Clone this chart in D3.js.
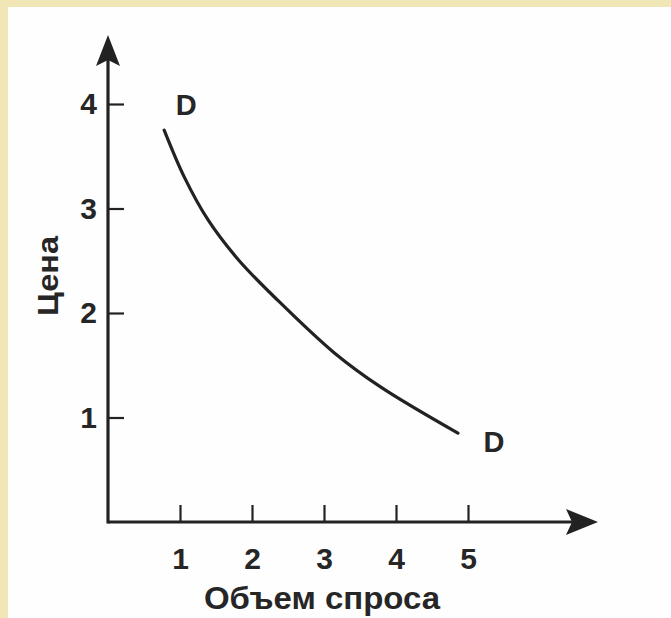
<!DOCTYPE html>
<html>
<head>
<meta charset="utf-8">
<script src="https://cdn.jsdelivr.net/npm/d3@7"></script>
<style>
  html, body { margin: 0; padding: 0; background: #fff; }
  svg text { font-family: "Liberation Sans", Arial, sans-serif; fill: #262626; }
</style>
</head>
<body>
<div id="chart"></div>
<script>
// demand curve D-D
const quantity = [0.78, 1.06, 1.39, 1.81, 2.36, 3.14, 3.79, 4.86];
const price = [3.75, 3.30, 2.89, 2.51, 2.12, 1.62, 1.29, 0.85];
const xTicks = [1, 2, 3, 4, 5];
const yTicks = [1, 2, 3, 4];
const xTitle = "Объем спроса";
const yTitle = "Цена";
const curveLabel = "D";

const width = 671, height = 618;

const svg = d3.select("#chart")
  .append("svg")
  .attr("width", width)
  .attr("height", height);

// beige frame round the picture
svg.append("rect").attr("width", width).attr("height", height).attr("fill", "#f1e6b6");
svg.append("rect").attr("x", 8).attr("y", 7).attr("width", width - 8).attr("height", height - 7).attr("fill", "#fefefe");

const x = d3.scaleLinear().domain([0, 5]).range([108, 468]);
const y = d3.scaleLinear().domain([0, 4]).range([522, 104]);

const ink = "#222";

// axes: ticks pointing inwards, domain line drawn by hand with arrows
const xAxis = svg.append("g")
  .attr("transform", `translate(0,${y(0)})`)
  .call(d3.axisBottom(x).tickValues(xTicks).tickSize(-17).tickPadding(26).tickFormat(d3.format("d")));

const yAxis = svg.append("g")
  .attr("transform", `translate(${x(0)},0)`)
  .call(d3.axisLeft(y).tickValues(yTicks).tickSize(-16).tickPadding(11).tickFormat(d3.format("d")));

[xAxis, yAxis].forEach(g => {
  g.select(".domain").remove();
  g.selectAll(".tick line").attr("stroke", ink).attr("stroke-width", 2.2);
  g.selectAll(".tick text")
    .attr("fill", ink)
    .style("font-size", "30px")
    .style("font-weight", "bold");
});

svg.append("line")
  .attr("x1", x(0)).attr("y1", y(0))
  .attr("x2", 575).attr("y2", y(0))
  .attr("stroke", ink).attr("stroke-width", 3.2);

svg.append("line")
  .attr("x1", x(0)).attr("y1", y(0) + 1.5)
  .attr("x2", x(0)).attr("y2", 55)
  .attr("stroke", ink).attr("stroke-width", 3.2);

// arrow heads
svg.append("path")
  .attr("d", `M598,${y(0)} L566,${y(0) - 13} L572,${y(0)} L566,${y(0) + 13} Z`)
  .attr("fill", ink);

svg.append("path")
  .attr("d", `M${x(0)},35 L${x(0) - 12},66 L${x(0)},60 L${x(0) + 12},66 Z`)
  .attr("fill", ink);

// demand curve
const line = d3.line()
  .x(d => x(d[0]))
  .y(d => y(d[1]))
  .curve(d3.curveCatmullRom.alpha(0.5));

svg.append("path")
  .datum(d3.zip(quantity, price))
  .attr("d", line)
  .attr("fill", "none")
  .attr("stroke", ink)
  .attr("stroke-width", 3.2)
  .attr("stroke-linecap", "round");

// D labels at both ends of the curve
const first = 0, last = quantity.length - 1;
svg.append("text")
  .attr("x", x(quantity[first]) + 22)
  .attr("y", y(price[first]) - 15)
  .attr("text-anchor", "middle")
  .style("font-size", "29px")
  .style("font-weight", "bold")
  .text(curveLabel);

svg.append("text")
  .attr("x", x(quantity[last]) + 36)
  .attr("y", y(price[last]) + 19)
  .attr("text-anchor", "middle")
  .style("font-size", "29px")
  .style("font-weight", "bold")
  .text(curveLabel);

// axis titles
svg.append("text")
  .attr("x", 322)
  .attr("y", 609)
  .attr("text-anchor", "middle")
  .attr("textLength", 236)
  .attr("lengthAdjust", "spacingAndGlyphs")
  .style("font-size", "31px")
  .style("font-weight", "bold")
  .text(xTitle);

svg.append("text")
  .attr("transform", "translate(58,276) rotate(-90)")
  .attr("text-anchor", "middle")
  .attr("textLength", 80)
  .attr("lengthAdjust", "spacingAndGlyphs")
  .style("font-size", "29px")
  .style("font-weight", "bold")
  .text(yTitle);
</script>
</body>
</html>
